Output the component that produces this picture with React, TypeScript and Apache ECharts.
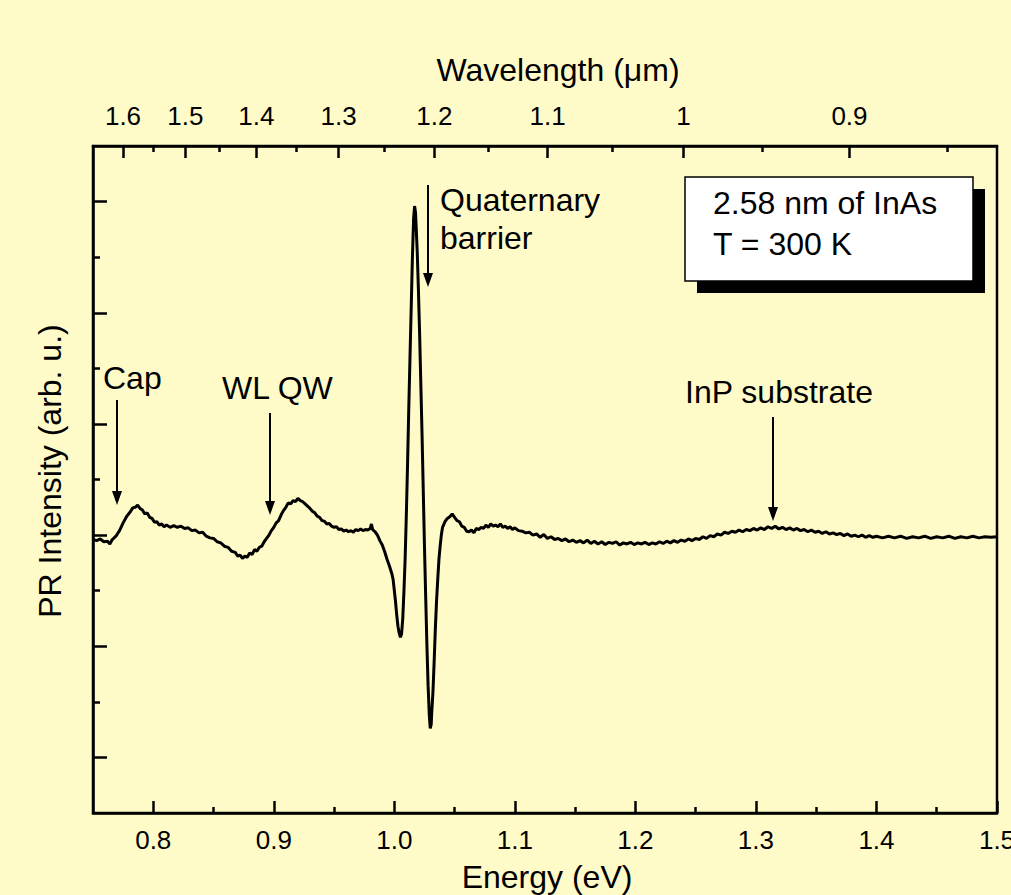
import React, { useEffect, useRef } from "react";
import * as echarts from "echarts";

// ---- Axis ticks ----
const energyTicks = [0.8, 0.9, 1.0, 1.1, 1.2, 1.3, 1.4, 1.5];
const energyMinorTicks = [0.85, 0.95, 1.05, 1.15, 1.25, 1.35, 1.45];
const wavelengthTicks = [1.6, 1.5, 1.4, 1.3, 1.2, 1.1, 1.0, 0.9];
const wavelengthMinorTicks = [1.55, 1.45, 1.35, 1.25, 1.15, 1.05, 0.95, 0.85];
const intensityTicks = [-2, -1, 0, 1, 2, 3];
const intensityMinorTicks = [-1.5, -0.5, 0.5, 1.5, 2.5];
const HC = 1.23984; // eV·µm, E = HC / λ

// ---- PR spectrum [energy eV, intensity arb. u.] ----
const capRegion: [number, number][] = [
  [0.750, -0.04], [0.753, -0.05], [0.756, -0.035], [0.759, -0.06], [0.762, -0.055], [0.764, -0.08],
  [0.766, -0.04], [0.769, -0.01], [0.772, 0.04], [0.775, 0.11], [0.778, 0.17], [0.781, 0.21],
  [0.783, 0.245], [0.785, 0.25], [0.787, 0.27], [0.789, 0.24], [0.791, 0.225], [0.793, 0.19],
  [0.795, 0.2], [0.797, 0.16], [0.799, 0.15], [0.801, 0.115], [0.803, 0.12], [0.805, 0.09],
  [0.807, 0.1], [0.809, 0.075], [0.811, 0.09], [0.814, 0.07], [0.817, 0.085], [0.820, 0.07],
  [0.823, 0.08], [0.826, 0.06], [0.829, 0.065], [0.832, 0.04], [0.835, 0.045], [0.838, 0.02],
  [0.841, 0.025], [0.844, -0.01], [0.847, -0.025], [0.850, -0.03], [0.853, -0.06], [0.856, -0.07],
  [0.859, -0.1],
];
const wellRegion: [number, number][] = [
  [0.862, -0.11], [0.865, -0.145], [0.868, -0.155], [0.870, -0.19], [0.872, -0.18], [0.874, -0.21],
  [0.876, -0.19], [0.878, -0.2], [0.880, -0.16], [0.882, -0.175], [0.884, -0.13], [0.886, -0.145],
  [0.888, -0.11], [0.890, -0.1], [0.892, -0.06], [0.894, -0.03], [0.896, 0.0], [0.898, 0.04],
  [0.900, 0.07], [0.902, 0.11], [0.904, 0.13], [0.906, 0.18], [0.908, 0.22], [0.910, 0.25],
  [0.912, 0.29], [0.914, 0.28], [0.916, 0.31], [0.918, 0.3], [0.920, 0.33], [0.922, 0.31],
  [0.924, 0.3], [0.926, 0.28], [0.928, 0.26], [0.930, 0.24], [0.932, 0.215], [0.934, 0.2],
  [0.936, 0.17], [0.938, 0.16], [0.940, 0.13], [0.942, 0.125], [0.944, 0.1], [0.946, 0.105],
  [0.948, 0.08], [0.950, 0.07], [0.952, 0.075], [0.954, 0.05], [0.956, 0.055], [0.958, 0.035],
  [0.960, 0.045], [0.962, 0.03], [0.964, 0.04], [0.966, 0.025], [0.968, 0.05], [0.970, 0.04],
  [0.972, 0.055], [0.974, 0.04], [0.976, 0.05], [0.978, 0.045], [0.980, 0.06],
];
const barrierRegion: [number, number][] = [
  [0.981, 0.1], [0.982, 0.05], [0.984, 0.03], [0.986, 0.0], [0.988, -0.05], [0.990, -0.09],
  [0.992, -0.15], [0.994, -0.22], [0.996, -0.28], [0.998, -0.35], [0.999, -0.4], [1.000, -0.5],
  [1.001, -0.6], [1.002, -0.72], [1.003, -0.82], [1.004, -0.88], [1.005, -0.92], [1.006, -0.89],
  [1.007, -0.75], [1.008, -0.5], [1.009, -0.2], [1.010, 0.2], [1.011, 0.65], [1.012, 1.15],
  [1.013, 1.6], [1.014, 2.05], [1.015, 2.5], [1.016, 2.85], [1.0168, 2.96], [1.0176, 2.9],
  [1.018, 2.8], [1.019, 2.55], [1.020, 2.2], [1.021, 1.8], [1.022, 1.35], [1.023, 0.9],
  [1.024, 0.4], [1.025, -0.1], [1.026, -0.55], [1.027, -0.98], [1.028, -1.35], [1.029, -1.62],
  [1.0298, -1.74], [1.0306, -1.7], [1.031, -1.6], [1.032, -1.42], [1.033, -1.15], [1.034, -0.85],
  [1.035, -0.6], [1.036, -0.4], [1.037, -0.22], [1.038, -0.1], [1.039, 0.0], [1.040, 0.07],
];
const highEnergyRegion: [number, number][] = [
  [1.042, 0.12], [1.044, 0.15], [1.046, 0.165], [1.048, 0.19], [1.050, 0.16], [1.052, 0.13],
  [1.054, 0.12], [1.056, 0.08], [1.058, 0.07], [1.060, 0.035], [1.062, 0.03], [1.064, 0.045],
  [1.066, 0.02], [1.068, 0.06], [1.070, 0.05], [1.072, 0.07], [1.074, 0.06], [1.076, 0.09],
  [1.078, 0.07], [1.080, 0.1], [1.082, 0.08], [1.084, 0.09], [1.086, 0.075], [1.088, 0.1],
  [1.090, 0.07], [1.092, 0.08], [1.094, 0.06], [1.096, 0.075], [1.098, 0.05], [1.100, 0.065],
  [1.103, 0.04], [1.106, 0.035], [1.109, 0.02], [1.112, 0.025], [1.115, 0.0], [1.118, 0.01],
  [1.121, -0.02], [1.124, 0.005], [1.127, -0.03], [1.130, -0.015], [1.133, -0.04], [1.136, -0.03],
  [1.139, -0.05], [1.142, -0.035], [1.145, -0.06], [1.148, -0.045], [1.151, -0.065], [1.154, -0.05],
  [1.157, -0.07], [1.160, -0.045], [1.163, -0.075], [1.166, -0.055], [1.169, -0.08], [1.172, -0.06],
  [1.175, -0.085], [1.178, -0.065], [1.181, -0.075], [1.184, -0.06], [1.187, -0.09], [1.190, -0.07],
  [1.193, -0.08], [1.196, -0.065], [1.199, -0.085], [1.202, -0.07], [1.205, -0.08], [1.208, -0.065],
  [1.211, -0.085], [1.214, -0.07], [1.217, -0.08], [1.220, -0.06], [1.223, -0.075], [1.226, -0.055],
  [1.229, -0.07], [1.232, -0.05], [1.235, -0.065], [1.238, -0.045], [1.241, -0.055], [1.244, -0.035],
  [1.247, -0.05], [1.250, -0.03], [1.253, -0.04], [1.256, -0.015], [1.259, -0.03], [1.262, -0.005],
  [1.265, -0.015], [1.268, 0.01], [1.271, 0.0], [1.274, 0.025], [1.277, 0.015], [1.280, 0.035],
  [1.283, 0.025], [1.286, 0.045], [1.289, 0.03], [1.292, 0.05], [1.295, 0.04], [1.298, 0.06],
  [1.301, 0.045], [1.304, 0.065], [1.307, 0.05], [1.310, 0.075], [1.313, 0.06], [1.316, 0.08],
  [1.319, 0.055], [1.322, 0.07], [1.325, 0.05], [1.328, 0.065], [1.331, 0.045], [1.334, 0.06],
  [1.337, 0.04], [1.340, 0.05], [1.343, 0.03], [1.346, 0.045], [1.349, 0.025], [1.352, 0.035],
  [1.355, 0.015], [1.358, 0.03], [1.361, 0.01], [1.364, 0.02], [1.367, 0.005], [1.370, 0.015],
  [1.373, -0.005], [1.376, 0.01], [1.379, -0.01], [1.382, 0.0], [1.385, -0.015], [1.388, 0.0],
  [1.391, -0.02], [1.394, -0.005], [1.397, -0.02], [1.400, -0.01], [1.405, -0.025], [1.410, -0.01],
  [1.415, -0.025], [1.420, -0.01], [1.425, -0.03], [1.430, -0.015], [1.435, -0.025], [1.440, -0.01],
  [1.445, -0.03], [1.450, -0.015], [1.455, -0.025], [1.460, -0.01], [1.465, -0.03], [1.470, -0.015],
  [1.475, -0.025], [1.480, -0.01], [1.485, -0.025], [1.490, -0.015], [1.495, -0.02], [1.500, -0.015],
];

const FONT = 'Arial, "Liberation Sans", sans-serif';
const BG = "#FFFBC9";

const GRID = { left: 93, right: 14, top: 146, bottom: 82, outerBoundsMode: "none", containLabel: false };

function arrow(x: number, y1: number, y2: number) {
  return [
    { type: "line", z: 50, shape: { x1: x, y1, x2: x, y2: y2 - 10 }, style: { stroke: "#000", lineWidth: 2 } },
    { type: "polygon", z: 50, shape: { points: [[x - 5, y2 - 14], [x + 5, y2 - 14], [x, y2]] }, style: { fill: "#000" } },
  ];
}

function label(text: string, x: number, y: number) {
  return {
    type: "text", z: 50, x, y,
    style: { text, fill: "#000", font: `32px ${FONT}`, textVerticalAlign: "middle", textAlign: "left" },
  };
}

export default function App() {
  const ref = useRef<HTMLDivElement>(null);
  useEffect(() => {
    document.body.style.margin = "0";
    const chart = echarts.init(ref.current!, null, { renderer: "svg" });
    const spectrum = [...capRegion, ...wellRegion, ...barrierRegion, ...highEnergyRegion];
    const majorTick = (vals: number[], len: number) => ({
      show: true, inside: true, length: len, customValues: vals, lineStyle: { color: "#000", width: 2.5 },
    });
    const axisLine = { show: true, onZero: false, lineStyle: { color: "#000", width: 2.5 } };
    const hiddenLine = { show: false, onZero: false };
    chart.setOption({
      animation: false,
      backgroundColor: BG,
      grid: [
        { ...GRID, show: true, borderColor: "#000", borderWidth: 2.5, backgroundColor: "transparent" },
        { ...GRID },
        { ...GRID },
      ],
      xAxis: [
        {
          type: "value", gridIndex: 0, position: "bottom", min: 0.75, max: 1.5,
          axisLine, axisTick: majorTick(energyTicks, 12), splitLine: { show: false },
          axisLabel: {
            customValues: energyTicks, formatter: (v: number) => v.toFixed(1),
            fontSize: 26, fontFamily: FONT, color: "#000", margin: 14,
          },
        },
        {
          type: "value", gridIndex: 0, position: "top", min: 0.75, max: 1.5,
          axisLine, axisTick: majorTick(wavelengthTicks.map((l) => HC / l), 12), splitLine: { show: false },
          axisLabel: {
            customValues: wavelengthTicks.map((l) => HC / l),
            formatter: (v: number) => String(Math.round((HC / v) * 100) / 100),
            fontSize: 26, fontFamily: FONT, color: "#000", margin: 17,
          },
        },
        {
          type: "value", gridIndex: 1, position: "bottom", min: 0.75, max: 1.5,
          axisLine: hiddenLine, axisTick: majorTick(energyMinorTicks, 6), axisLabel: { show: false }, splitLine: { show: false },
        },
        {
          type: "value", gridIndex: 2, position: "top", min: 0.75, max: 1.5,
          axisLine: hiddenLine, axisTick: majorTick(wavelengthMinorTicks.map((l) => HC / l), 6), axisLabel: { show: false }, splitLine: { show: false },
        },
      ],
      yAxis: [
        {
          type: "value", gridIndex: 0, position: "left", min: -2.5, max: 3.5,
          axisLine, axisTick: majorTick(intensityTicks, 14), axisLabel: { show: false }, splitLine: { show: false },
        },
        {
          type: "value", gridIndex: 1, position: "left", min: -2.5, max: 3.5,
          axisLine: hiddenLine, axisTick: majorTick(intensityMinorTicks, 7), axisLabel: { show: false }, splitLine: { show: false },
        },
        { type: "value", gridIndex: 2, min: -2.5, max: 3.5, show: false },
      ],
      series: [
        {
          type: "line", xAxisIndex: 0, yAxisIndex: 0, data: spectrum, showSymbol: false, symbol: "none",
          lineStyle: { color: "#000", width: 3 }, z: 10, clip: true,
        },
      ],
      graphic: [
        { type: "text", z: 50, x: 558, y: 70, style: { text: "Wavelength (μm)", fill: "#000", font: `32px ${FONT}`, textAlign: "center", textVerticalAlign: "middle" } },
        { type: "text", z: 50, x: 547, y: 877, style: { text: "Energy (eV)", fill: "#000", font: `32px ${FONT}`, textAlign: "center", textVerticalAlign: "middle" } },
        { type: "text", z: 50, x: 50, y: 471, rotation: Math.PI / 2, style: { text: "PR Intensity (arb. u.)", fill: "#000", font: `32px ${FONT}`, textAlign: "center", textVerticalAlign: "middle" } },
        label("Cap", 103, 378),
        ...arrow(117, 400, 505),
        label("WL QW", 222, 388),
        ...arrow(270, 413, 515),
        label("Quaternary", 440, 200),
        label("barrier", 440, 238),
        ...arrow(428, 185, 287),
        label("InP substrate", 685, 392),
        ...arrow(773, 417, 521),
        { type: "rect", z: 48, shape: { x: 697, y: 189, width: 288, height: 104 }, style: { fill: "#000" } },
        { type: "rect", z: 49, shape: { x: 685, y: 177, width: 288, height: 104 }, style: { fill: "#fff", stroke: "#000", lineWidth: 1.5 } },
        label("2.58 nm of InAs", 713, 203),
        label("T = 300 K", 713, 244),
      ],
    });
    return () => chart.dispose();
  }, []);
  return <div ref={ref} style={{ position: "absolute", left: 0, top: 0, width: 1011, height: 895 }} />;
}
